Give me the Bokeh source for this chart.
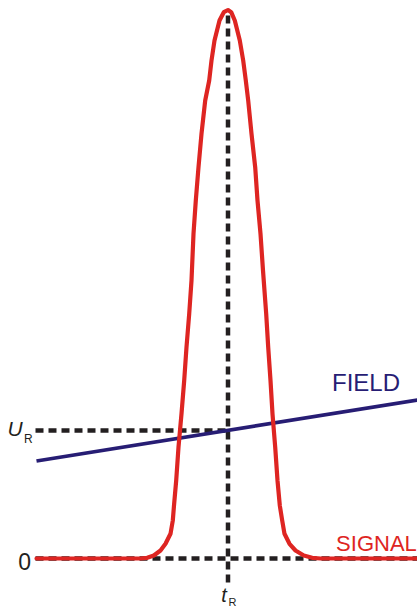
from bokeh.plotting import figure
from bokeh.models import Range1d
from bokeh.core.properties import value
from bokeh.embed import file_html
from bokeh.resources import INLINE

# Detector signal (time relative to t_R, signal in arbitrary units, baseline = 0)
signal_t = [-191.5, -87.5, -80.8, -74.2, -67.5, -62.5, -57.5, -55.2, -54.0, -51.8,
            -49.5, -46.5, -43.8, -41.5, -38.8, -36.5, -34.5, -32.2, -29.5, -26.5,
            -22.8, -18.8, -16.5, -13.5, -8.5, -4.2, 0.0,
            3.2, 6.8, 11.8, 15.2, 17.8, 20.2, 23.5, 27.2, 29.5, 32.5,
            35.0, 38.2, 40.2, 42.5, 44.5, 47.2, 49.5, 51.8, 54.2, 56.5,
            61.5, 67.5, 75.8, 84.2, 92.5, 189.5]
signal_v = [0, 0, 0.7, 3, 8, 14.7, 24.7, 38, 53, 78,
            111.3, 144.7, 178, 211.3, 244.7, 278, 324.7, 358, 391.3, 424.7,
            458, 478, 498, 518, 538, 546.3, 548.5,
            546.3, 538, 518, 498, 478, 458, 424.7, 391.3, 358, 324.7,
            288, 244.7, 211.3, 178, 144.7, 111.3, 78, 53, 38, 24.7,
            14.7, 8, 3, 0.7, 0, 0]

# Field ramp (same axes)
field_t = [-191.5, 189.5]
field_v = [97.5, 158.5]

# Reference markers
t_R = 0.0
U_R = 128.0
zero_level = 0.0
t_start = -192.5
t_end = 189.5
t_low = -24.0

ink = "#231f20"
red = "#de2522"
navy = "#271d74"
font = value("Liberation Sans")

p = figure(width=417, height=612, x_range=Range1d(-227.5, 189.5), y_range=Range1d(-54, 558),
           output_backend="svg", toolbar_location=None, min_border=0,
           x_axis_location=None, y_axis_location=None)
p.grid.visible = False
p.outline_line_color = None
p.background_fill_color = "white"
p.border_fill_color = "white"

# dashed guide lines
p.line([t_start, t_end], [zero_level, zero_level], line_color=ink, line_width=4.5, line_dash="8 5")
p.line([t_start, t_R], [U_R, U_R], line_color=ink, line_width=4.5, line_dash="8 5")
p.line([t_R, t_R], [t_low, signal_v[26]], line_color=ink, line_width=4.5, line_dash="8 5")

# field and signal
p.line(field_t, field_v, line_color=navy, line_width=3.6)
p.line(signal_t, signal_v, line_color=red, line_width=4.2, line_join="round", line_cap="round")

# labels
p.text(x=[104.0], y=[175.8], text=["FIELD"], text_color=navy, text_font=font,
       text_font_size="24px", text_align="left", text_baseline="middle")
p.text(x=[188.8], y=[14.7], text=["SIGNAL"], text_color=red, text_font=font,
       text_font_size="22px", text_align="right", text_baseline="middle")
p.text(x=[-197.0], y=[-3.0], text=["0"], text_color=ink, text_font=font,
       text_font_size="23px", text_align="right", text_baseline="middle")
p.text(x=[-220.5], y=[130.5], text=["U"], text_color=ink, text_font=font,
       text_font_size="21px", text_font_style="italic", text_align="left", text_baseline="middle")
p.text(x=[-204.0], y=[119.3], text=["R"], text_color=ink, text_font=font,
       text_font_size="12px", text_align="left", text_baseline="middle")
p.text(x=[-6.8], y=[-36.6], text=["t"], text_color=ink, text_font=font,
       text_font_size="20px", text_font_style="italic", text_align="left", text_baseline="middle")
p.text(x=[0.6], y=[-43.0], text=["R"], text_color=ink, text_font=font,
       text_font_size="11px", text_align="left", text_baseline="middle")

open("out.html", "w").write(file_html(p, INLINE))
